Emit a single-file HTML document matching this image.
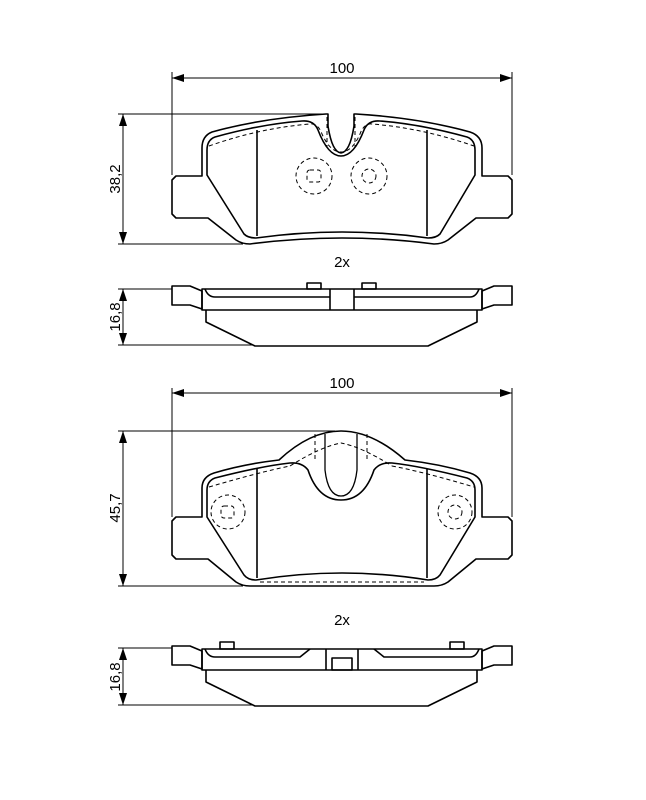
<!DOCTYPE html>
<html><head><style>body{margin:0;background:#fff}svg{display:block}</style></head><body>
<svg width="646" height="800" viewBox="0 0 646 800" xmlns="http://www.w3.org/2000/svg" font-family="Liberation Sans, sans-serif">
<defs>
<marker id="a" markerWidth="12" markerHeight="8" refX="12" refY="4" orient="auto-start-reverse" markerUnits="userSpaceOnUse"><path d="M0,0 L12,4 L0,8z" fill="#000"/></marker>
</defs>
<g stroke="#000" stroke-width="1" fill="none">
<!-- dims pad1 -->
<line x1="172" y1="72" x2="172" y2="175"/><line x1="512" y1="72" x2="512" y2="175"/>
<line x1="172" y1="78" x2="512" y2="78" marker-start="url(#a)" marker-end="url(#a)"/>
<line x1="118" y1="114" x2="327" y2="114"/><line x1="118" y1="244" x2="243" y2="244"/>
<line x1="123" y1="114" x2="123" y2="244" marker-start="url(#a)" marker-end="url(#a)"/>
<line x1="118" y1="289" x2="172" y2="289"/><line x1="118" y1="345" x2="252" y2="345"/>
<line x1="123" y1="289" x2="123" y2="345" marker-start="url(#a)" marker-end="url(#a)"/>
<!-- dims pad2 -->
<line x1="172" y1="388" x2="172" y2="517"/><line x1="512" y1="388" x2="512" y2="517"/>
<line x1="172" y1="393" x2="512" y2="393" marker-start="url(#a)" marker-end="url(#a)"/>
<line x1="118" y1="431" x2="335" y2="431"/><line x1="118" y1="586" x2="243" y2="586"/>
<line x1="123" y1="431" x2="123" y2="586" marker-start="url(#a)" marker-end="url(#a)"/>
<line x1="118" y1="648" x2="172" y2="648"/><line x1="118" y1="705" x2="252" y2="705"/>
<line x1="123" y1="648" x2="123" y2="705" marker-start="url(#a)" marker-end="url(#a)"/>
</g>
<g stroke="#000" stroke-width="1.6" fill="none" stroke-linejoin="round">
<!-- pad1 outline -->
<path d="M202,176 L176,176 L172,180 L172,214 L176,218 L208,218 L236,240 Q242,244 250,244 Q342,232 434,244 Q442,244 448,240 L476,218 L508,218 L512,214 L512,180 L508,176 L482,176 L482,148 Q482,136 470,132 Q420,118 356,114 L354,114 L354,126 Q350,152 341,153 Q332,152 328,126 L328,114 L326,114 Q262,118 212,132 Q202,136 202,148 Z"/>
<path d="M207,150 Q207,140 215,137 Q262,124 302,121 Q314,120 318,130 Q328,156 341,156 Q354,156 364,130 Q368,120 380,121 Q420,124 467,137 Q475,140 475,150 L475,175 L440,234 Q436,238 428,238 Q342,226 256,238 Q248,238 244,234 L207,175 Z"/>
<line x1="257" y1="130" x2="257" y2="236"/><line x1="427" y1="130" x2="427" y2="236"/>
</g>
<g stroke="#000" stroke-width="1" fill="none" stroke-dasharray="4,3">
<path d="M209,146 Q260,128 310,124 Q318,123 322,134 Q330,152 341,152 Q352,152 360,134 Q364,123 372,124 Q422,128 474,146"/>
<circle cx="314" cy="176" r="18"/><circle cx="369" cy="176" r="18"/><circle cx="369" cy="176" r="7"/>
<rect x="307" y="170" width="14" height="12" rx="3"/>
<path d="M327,117 L327,148 M355,117 L355,148"/>
</g>
<!-- side view 1 -->
<g stroke="#000" stroke-width="1.6" fill="none" stroke-linejoin="round">
<path d="M172,286 L190,286 L202,291 L202,309 L190,305 L172,305 Z"/>
<path d="M512,286 L494,286 L482,291 L482,309 L494,305 L512,305 Z"/>
<rect x="202" y="289" width="280" height="21"/>
<path d="M205,289 Q208,297 215,297 L330,297 M354,297 L470,297 Q476,297 479,289"/>
<line x1="330" y1="289" x2="330" y2="310"/><line x1="354" y1="289" x2="354" y2="310"/>
<rect x="307" y="283" width="14" height="6"/><rect x="362" y="283" width="14" height="6"/>
<path d="M206,310 L206,322 L255,346 L428,346 L477,322 L477,310"/>
</g>
<!-- pad2 outline -->
<g stroke="#000" stroke-width="1.6" fill="none" stroke-linejoin="round">
<path d="M202,517 L176,517 L172,521 L172,555 L176,559 L208,559 L236,582 Q242,586 250,586 L434,586 Q442,586 448,582 L476,559 L508,559 L512,555 L512,521 L508,517 L482,517 L482,488 Q482,477 470,473 Q440,464 405,460 Q372,431 341,431 Q310,431 279,460 Q244,464 214,473 Q202,477 202,488 Z"/>
<path d="M207,490 Q207,481 215,478 Q262,466 290,463 Q302,462 308,470 Q318,500 341,500 Q364,500 374,470 Q380,462 392,463 Q420,466 467,478 Q475,481 475,490 L475,517 L440,575 Q436,580 428,580 Q342,566 256,580 Q248,580 244,575 L207,517 Z"/>
<line x1="257" y1="469" x2="257" y2="578"/><line x1="427" y1="469" x2="427" y2="578"/>
<path d="M325,434 L325,470 Q328,496 341,496 Q354,496 357,470 L357,434" stroke-width="1.3"/>
</g>
<g stroke="#000" stroke-width="1" fill="none" stroke-dasharray="4,3">
<path d="M209,487 Q260,472 290,466 M392,466 Q424,472 474,487"/>
<path d="M290,466 Q320,447 341,443 Q362,447 392,466"/>
<path d="M260,582 L424,582"/>
<circle cx="228" cy="512" r="17"/><rect x="221" y="506" width="13" height="12" rx="3"/>
<circle cx="455" cy="512" r="17"/><circle cx="455" cy="512" r="7"/>
<path d="M315,434 L315,460 M367,434 L367,460"/>
</g>
<!-- side view 2 -->
<g stroke="#000" stroke-width="1.6" fill="none" stroke-linejoin="round">
<path d="M172,646 L190,646 L202,651 L202,669 L190,665 L172,665 Z"/>
<path d="M512,646 L494,646 L482,651 L482,669 L494,665 L512,665 Z"/>
<rect x="202" y="649" width="280" height="21"/>
<path d="M205,649 Q208,657 215,657 L300,657 L310,649 M374,649 L384,657 L470,657 Q476,657 479,649"/>
<line x1="326" y1="649" x2="326" y2="670"/><line x1="358" y1="649" x2="358" y2="670"/>
<rect x="332" y="658" width="20" height="12"/>
<rect x="220" y="642" width="14" height="7"/><rect x="450" y="642" width="14" height="7"/>
<path d="M206,670 L206,682 L255,706 L428,706 L477,682 L477,670"/>
</g>
<g font-size="15" fill="#000" text-anchor="middle">
<text x="342" y="73">100</text>
<text x="342" y="388">100</text>
<text x="342" y="267">2x</text>
<text x="342" y="625">2x</text>
<text transform="translate(120,179) rotate(-90)">38,2</text>
<text transform="translate(120,317) rotate(-90)">16,8</text>
<text transform="translate(120,508) rotate(-90)">45,7</text>
<text transform="translate(120,677) rotate(-90)">16,8</text>
</g>
</svg>
</body></html>
